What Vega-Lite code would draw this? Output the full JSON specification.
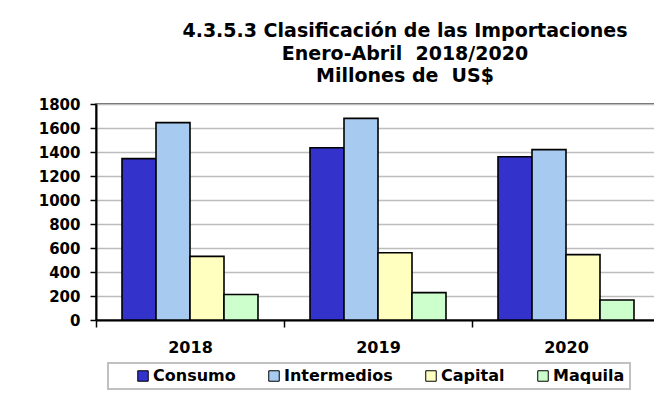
{
  "$schema": "https://vega.github.io/schema/vega-lite/v6.json",
  "autosize": "none",
  "width": 564,
  "height": 216,
  "padding": {"left": 96, "top": 104, "right": 0, "bottom": 83},
  "background": "white",
  "title": {
    "text": ["4.3.5.3 Clasificación de las Importaciones", "Enero-Abril\u00a0 2018/2020", "Millones de\u00a0 US$"],
    "fontSize": 19,
    "font": "DejaVu Sans",
    "fontWeight": "bold",
    "color": "black",
    "anchor": "middle",
    "lineHeight": 22.5,
    "offset": 11,
    "dx": 27
  },
  "data": {
    "values": [
      {"year": "2018", "tipo": "Consumo", "valor": 1345},
      {"year": "2018", "tipo": "Intermedios", "valor": 1645},
      {"year": "2018", "tipo": "Capital", "valor": 530},
      {"year": "2018", "tipo": "Maquila", "valor": 212},
      {"year": "2019", "tipo": "Consumo", "valor": 1435},
      {"year": "2019", "tipo": "Intermedios", "valor": 1680},
      {"year": "2019", "tipo": "Capital", "valor": 560},
      {"year": "2019", "tipo": "Maquila", "valor": 228},
      {"year": "2020", "tipo": "Consumo", "valor": 1360},
      {"year": "2020", "tipo": "Intermedios", "valor": 1420},
      {"year": "2020", "tipo": "Capital", "valor": 545},
      {"year": "2020", "tipo": "Maquila", "valor": 167}
    ]
  },
  "mark": {"type": "bar", "stroke": "black", "strokeWidth": 1.6},
  "encoding": {
    "x": {
      "field": "year",
      "type": "nominal",
      "title": null,
      "scale": {"paddingInner": 0, "paddingOuter": 0},
      "axis": {
        "labelAngle": 0,
        "tickBand": "extent",
        "tickSize": 7,
        "tickColor": "black",
        "tickWidth": 1.5,
        "domainColor": "black",
        "domainWidth": 2,
        "labelPadding": 12,
        "labelFontSize": 16
      }
    },
    "xOffset": {
      "field": "tipo",
      "type": "nominal",
      "sort": ["Consumo", "Intermedios", "Capital", "Maquila"],
      "scale": {"paddingInner": 0, "paddingOuter": 0.765}
    },
    "y": {
      "field": "valor",
      "type": "quantitative",
      "title": null,
      "scale": {"domain": [0, 1800], "nice": false},
      "axis": {
        "values": [0, 200, 400, 600, 800, 1000, 1200, 1400, 1600, 1800],
        "format": "d",
        "tickSize": 6,
        "tickColor": "black",
        "tickWidth": 1.5,
        "domainColor": "black",
        "domainWidth": 2,
        "labelPadding": 10,
        "labelFontSize": 15,
        "gridColor": "#bdbdbd",
        "gridWidth": 1.5
      }
    },
    "color": {
      "field": "tipo",
      "type": "nominal",
      "sort": ["Consumo", "Intermedios", "Capital", "Maquila"],
      "scale": {
        "domain": ["Consumo", "Intermedios", "Capital", "Maquila"],
        "range": ["#3333CC", "#A6CAF0", "#FFFFC0", "#CCFFCC"]
      },
      "legend": {
        "title": " ",
        "titleOrient": "left",
        "titlePadding": 22,
        "orient": "none",
        "legendX": 12,
        "legendY": 259,
        "direction": "horizontal",
        "columns": 4,
        "columnPadding": 30,
        "symbolType": "square",
        "symbolSize": 110,
        "symbolStrokeColor": "black",
        "symbolStrokeWidth": 1,
        "labelFontSize": 16,
        "labelFontWeight": "bold",
        "labelColor": "black",
        "labelOffset": 2,
        "strokeColor": "#c0c0c0",
        "padding": 5
      }
    }
  },
  "config": {
    "font": "DejaVu Sans",
    "view": {"stroke": "#333333", "strokeWidth": 1.5},
    "axis": {"labelFont": "DejaVu Sans", "labelFontWeight": "bold", "labelColor": "black"},
    "legend": {"labelFont": "DejaVu Sans", "titleFont": "DejaVu Sans", "strokeWidth": 2}
  }
}
